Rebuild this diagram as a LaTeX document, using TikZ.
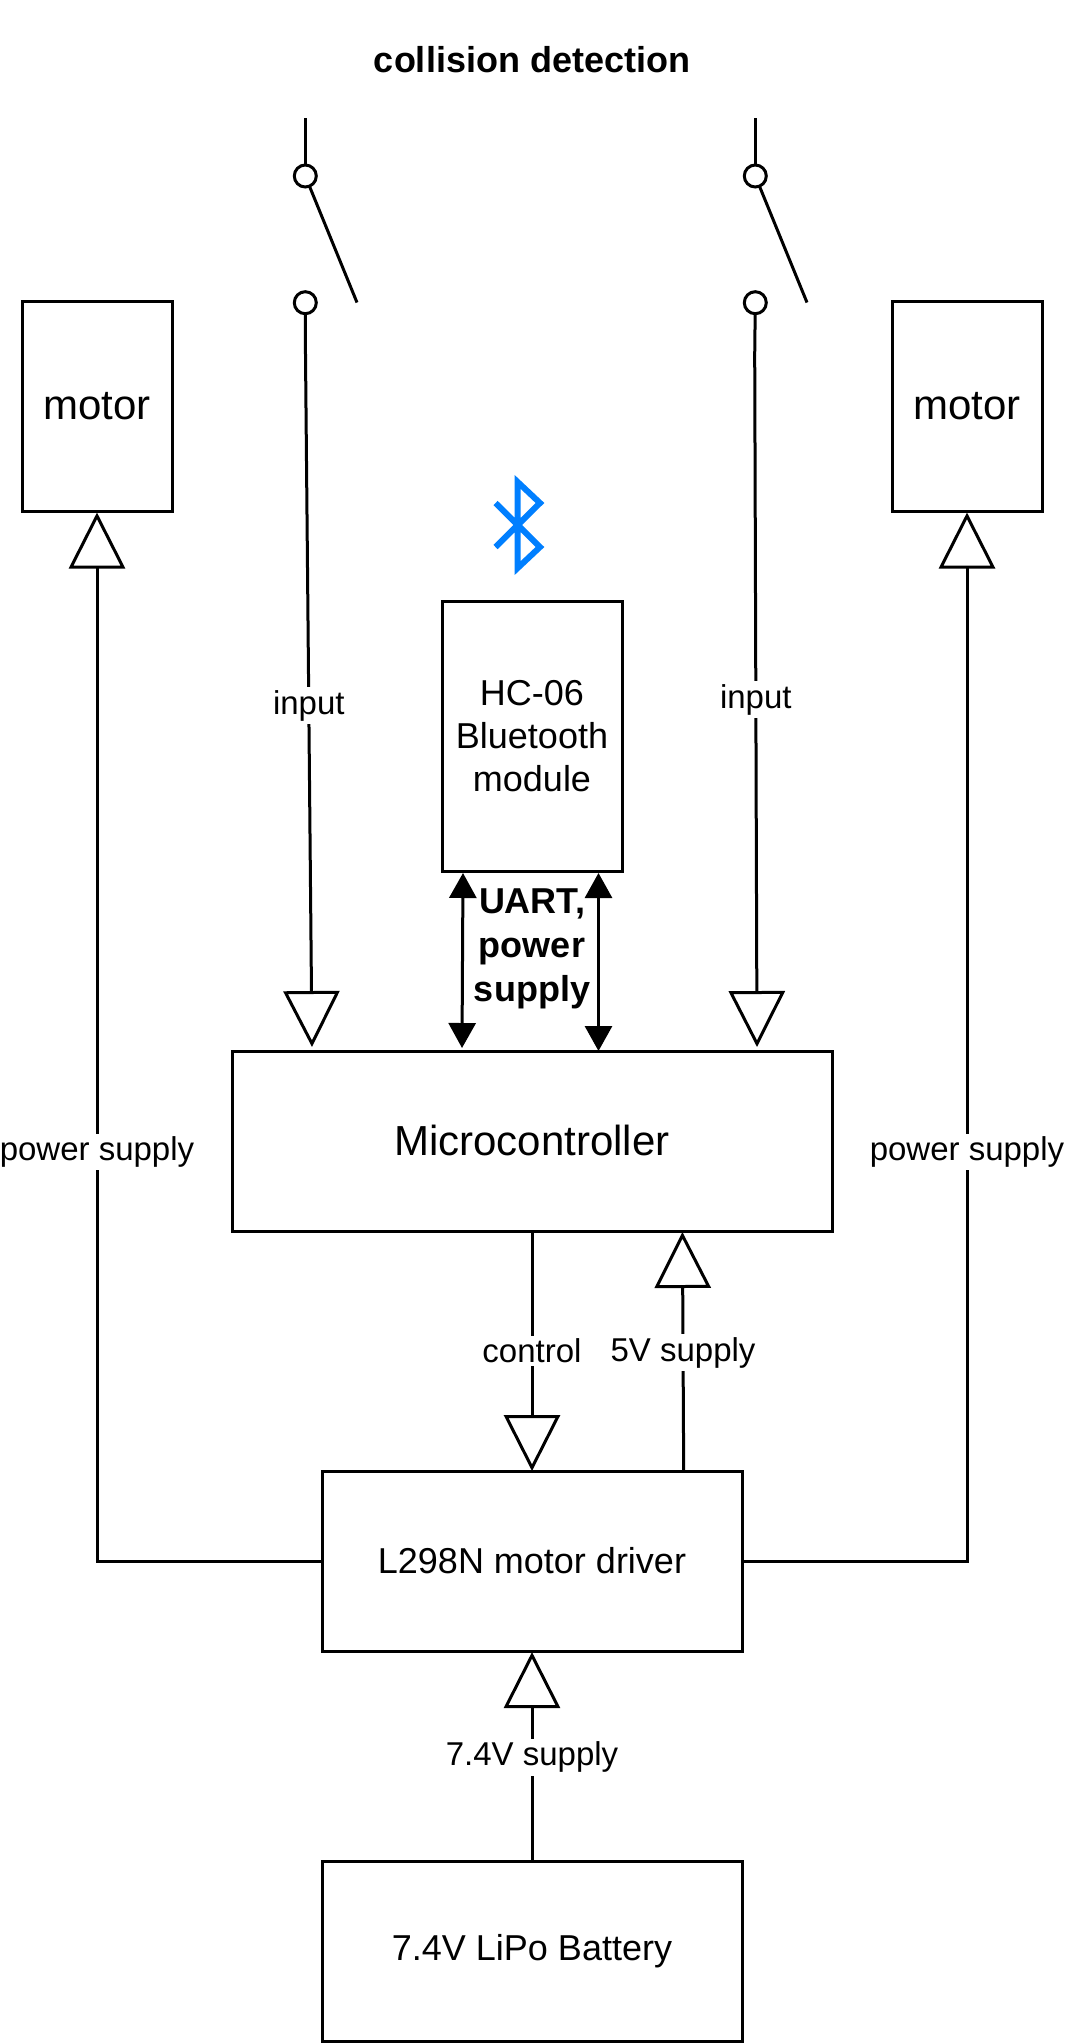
\documentclass[tikz,border=0pt]{standalone}
\usepackage{fontspec}
\setmainfont{Liberation Sans}
\usetikzlibrary{arrows.meta}
\definecolor{btblue}{HTML}{007FFF}
\tikzset{
  x=1pt,y=-1pt,
  every path/.style={line width=3pt},
  boxnode/.style={draw=black,rectangle,outer sep=0pt,inner sep=0pt,align=center,line width=3pt},
  bigtext/.style={font=\fontsize{42}{50}\selectfont},
  midtext/.style={font=\fontsize{36}{43}\selectfont},
  boldtext/.style={font=\fontsize{36}{44}\selectfont\bfseries,align=center,inner sep=0pt},
  edgelabel/.style={font=\fontsize{33}{40}\selectfont,fill=white,inner sep=3pt,outer sep=0pt},
  hollow/.style={-{Triangle[open,fill=white,length=56pt,width=56pt,line width=3pt]}},
  solidboth/.style={{Triangle[length=25pt,width=27pt]}-{Triangle[length=25pt,width=27pt]}},
  terminal/.style={circle,draw=black,fill=white,minimum size=22pt,inner sep=0pt,outer sep=0pt,line width=3pt},
}
\begin{document}
\begin{tikzpicture}
\useasboundingbox (0,0) rectangle (1065,2043);

\node[boldtext] (title) at (532,60) {collision detection};

\node[boxnode,bigtext,minimum width=150pt,minimum height=210pt] (motorL) at (97,406) {\raisebox{-1.5pt}{motor}};
\node[boxnode,bigtext,minimum width=150pt,minimum height=210pt] (motorR) at (967,406) {\raisebox{-1.5pt}{motor}};
\node[boxnode,midtext,minimum width=180pt,minimum height=270pt] (hc) at (532,736) {HC-06\\Bluetooth\\module};
\node[boxnode,bigtext,minimum width=600pt,minimum height=180pt] (mcu) at (532,1141) {\raisebox{1pt}{Microcontroller}};
\node[boxnode,midtext,minimum width=420pt,minimum height=180pt] (driver) at (532,1561) {L298N motor driver};
\node[boxnode,midtext,minimum width=420pt,minimum height=180pt] (battery) at (532,1951) {7.4V LiPo Battery};

% switches
\node[terminal] (s1a) at (305.3,176) {};
\node[terminal] (s1b) at (305.3,302.7) {};
\node[terminal] (s2a) at (755.3,176) {};
\node[terminal] (s2b) at (755.3,302.7) {};
\coordinate (s1top) at (305.3,118);
\coordinate (s2top) at (755.3,118);
\coordinate (s1blade) at (357,302.5);
\coordinate (s2blade) at (807,302.5);
\draw (s1top) -- (s1a);
\draw (s2top) -- (s2a);
\draw (s1a) -- (s1blade);
\draw (s2a) -- (s2blade);

% input lines
\coordinate (in1bend) at (305.5,355);
\coordinate (in1end) at (312,1047);
\coordinate (in2bend) at (754.7,355);
\coordinate (in2end) at (757,1047);
\draw (s1b) -- (in1bend);
\draw (s2b) -- (in2bend);
\draw[hollow] (in1bend) -- node[edgelabel,pos=0.507] (lin1) {input} (in1end);
\draw[hollow] (in2bend) -- node[edgelabel,pos=0.498] (lin2) {input} (in2end);

% UART
\coordinate (u1t) at (463,873);
\coordinate (u1b) at (462,1048);
\coordinate (u2t) at (598.5,873);
\coordinate (u2b) at (598.5,1051);
\draw[solidboth] (u1t) -- (u1b);
\draw[solidboth] (u2t) -- (u2b);
\node[boldtext] (uart) at (532,949) {UART,\\power\\supply};

% power to motors
\draw[hollow] (driver.west) -| node[edgelabel,pos=0.695] (lpL) {power supply} ([yshift=-1.5pt]motorL.south);
\draw[hollow] (driver.east) -| node[edgelabel,pos=0.695] (lpR) {power supply} ([yshift=-1.5pt]motorR.south);

% control and supplies
\coordinate (ctrlEnd) at (532,1471);
\draw[hollow] (mcu.south) -- node[edgelabel,pos=0.5] (lctrl) {control} (ctrlEnd);
\coordinate (v5a) at (683.7,1471);
\coordinate (v5b) at (682.4,1232);
\draw[hollow] (v5a) -- node[edgelabel,pos=0.495] (l5v) {5V supply} (v5b);
\coordinate (batEnd) at (532,1652);
\draw[hollow] (battery.north) -- node[edgelabel,pos=0.497] (lbat) {7.4V supply} (batEnd);

% bluetooth symbol
\draw[btblue,line width=6pt,miter limit=10,line join=miter]
  (495.5,503) -- (540,547) -- (517.7,568) -- (517.7,482) -- (540,503) -- (495.5,547);
\end{tikzpicture}
\end{document}
